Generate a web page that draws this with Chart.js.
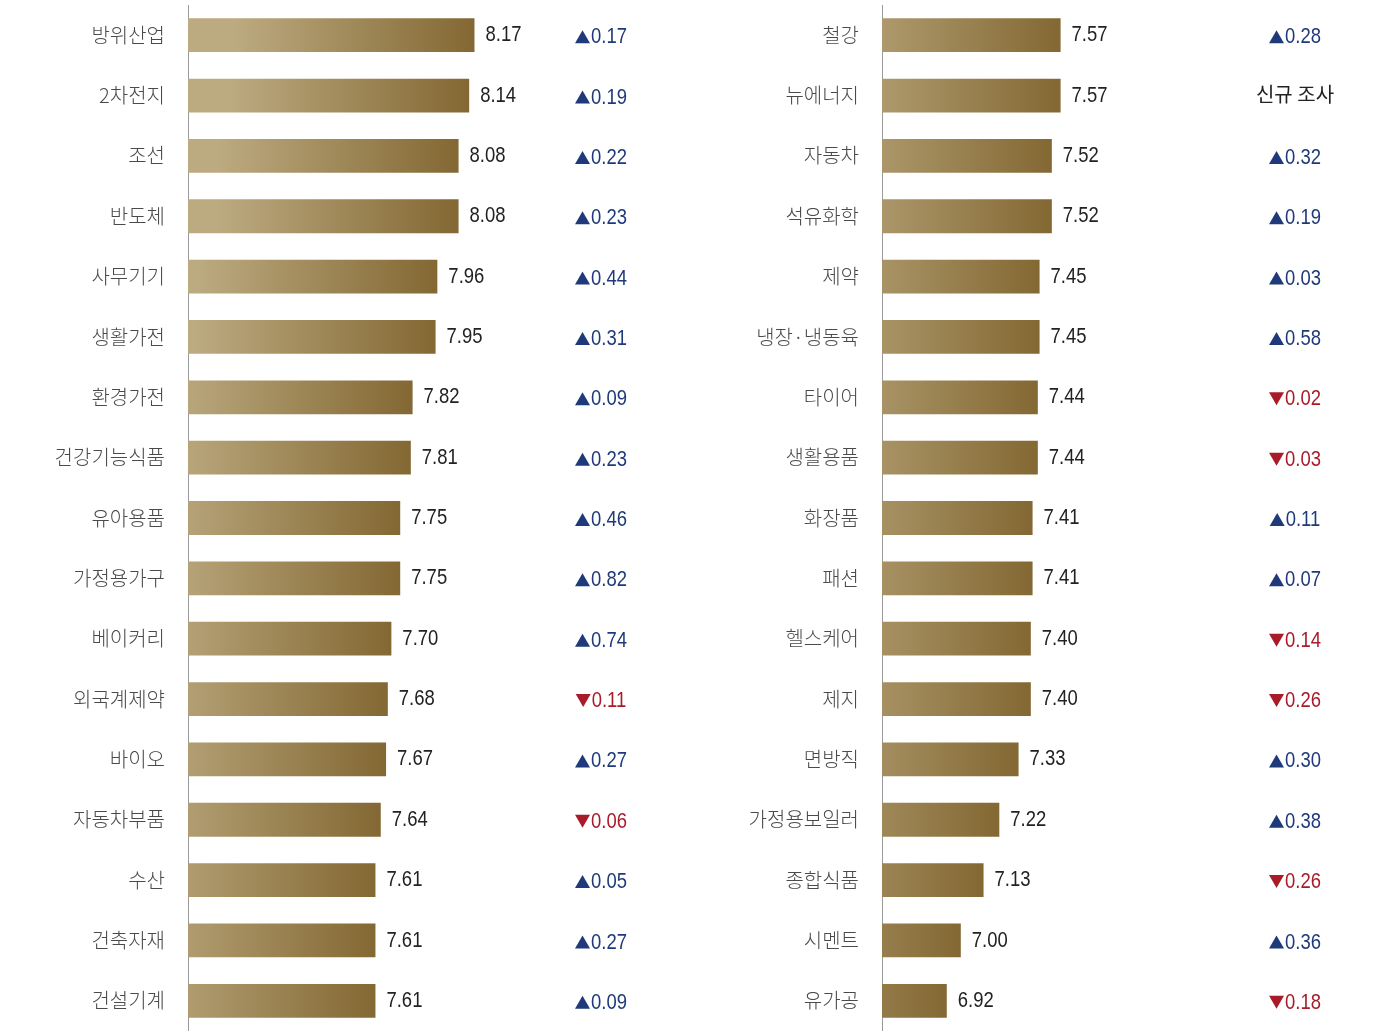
<!DOCTYPE html>
<html>
<head>
<meta charset="utf-8">
<script src="https://cdn.jsdelivr.net/npm/chart.js@4"></script>
<style>
  body { margin: 0; background: #fff; }
  #wrap { position: relative; width: 1381px; height: 1031px; }
  canvas { position: absolute; top: 0; }
</style>
</head>
<body>
<div id="wrap">
  <canvas id="leftChart" width="692" height="1031" style="left:0"></canvas>
  <canvas id="rightChart" width="689" height="1031" style="left:692px"></canvas>
</div>
<script>
// 왼쪽 업종
const leftLabels = ['방위산업', '2차전지', '조선', '반도체', '사무기기', '생활가전', '환경가전', '건강기능식품',
  '유아용품', '가정용가구', '베이커리', '외국계제약', '바이오', '자동차부품', '수산', '건축자재', '건설기계'];
const leftValues = [8.17, 8.14, 8.08, 8.08, 7.96, 7.95, 7.82, 7.81, 7.75, 7.75, 7.70, 7.68, 7.67, 7.64, 7.61, 7.61, 7.61];
const leftChange = [0.17, 0.19, 0.22, 0.23, 0.44, 0.31, 0.09, 0.23, 0.46, 0.82, 0.74, -0.11, 0.27, -0.06, 0.05, 0.27, 0.09];

// 오른쪽 업종
const rightLabels = ['철강', '뉴에너지', '자동차', '석유화학', '제약', '냉장·냉동육', '타이어', '생활용품',
  '화장품', '패션', '헬스케어', '제지', '면방직', '가정용보일러', '종합식품', '시멘트', '유가공'];
const rightValues = [7.57, 7.57, 7.52, 7.52, 7.45, 7.45, 7.44, 7.44, 7.41, 7.41, 7.40, 7.40, 7.33, 7.22, 7.13, 7.00, 6.92];
const rightChange = [0.28, null, 0.32, 0.19, 0.03, 0.58, -0.02, -0.03, 0.11, 0.07, -0.14, -0.26, 0.30, 0.38, -0.26, 0.36, -0.18];

const NUM_FONT = '"Liberation Sans Narrow", "Liberation Sans", sans-serif';
const KR_FONT = '"Noto Sans CJK KR", sans-serif';
const UP = '#1f3a7a';
const DOWN = '#a81c2a';
const SQUEEZE = 0.84; // 숫자 좁게

// 막대 그라데이션 (막대 끝 기준)
function barGradient(context) {
  const chart = context.chart;
  const xs = chart.scales.x;
  if (!xs || !chart.chartArea) return '#957a45';
  const end = xs.getPixelForValue(context.raw);
  if (!isFinite(end)) return '#957a45';
  const start = end - 240;
  const g = chart.ctx.createLinearGradient(start, 0, end, 0);
  g.addColorStop(0, '#bcaa80');
  g.addColorStop(1, '#836833');
  return g;
}

function narrowText(ctx, txt, x, y) {
  ctx.save();
  ctx.translate(x, y);
  ctx.scale(SQUEEZE, 1);
  ctx.fillText(txt, 0, 0);
  ctx.restore();
}

// 값 + 증감 라벨
const labelPlugin = {
  id: 'labels',
  afterDatasetsDraw(chart, args, opts) {
    const ctx = chart.ctx;
    const meta = chart.getDatasetMeta(0);
    const values = chart.data.datasets[0].data;
    const changes = opts.changes;
    const cx = chart.chartArea.left + 413;
    ctx.save();
    ctx.textBaseline = 'middle';
    meta.data.forEach((bar, i) => {
      ctx.fillStyle = '#222';
      ctx.font = '22px ' + NUM_FONT;
      ctx.textAlign = 'left';
      narrowText(ctx, values[i].toFixed(2), bar.x + 11, bar.y);

      const c = changes[i];
      const y = bar.y + 2;
      if (c === null) {
        ctx.font = '20px ' + KR_FONT;
        ctx.fillStyle = '#222';
        ctx.textAlign = 'center';
        ctx.fillText('신규 조사', cx, bar.y - 1);
        return;
      }
      const txt = Math.abs(c).toFixed(2);
      ctx.font = '22px ' + NUM_FONT;
      const tw = ctx.measureText(txt).width * SQUEEZE;
      const triW = 15, gap = 1;
      const total = triW + gap + tw;
      const x0 = cx - total / 2;
      ctx.fillStyle = c >= 0 ? UP : DOWN;
      ctx.beginPath();
      if (c >= 0) {
        ctx.moveTo(x0, y + 6);
        ctx.lineTo(x0 + triW, y + 6);
        ctx.lineTo(x0 + triW / 2, y - 7);
      } else {
        ctx.moveTo(x0, y - 7);
        ctx.lineTo(x0 + triW, y - 7);
        ctx.lineTo(x0 + triW / 2, y + 6);
      }
      ctx.closePath();
      ctx.fill();
      ctx.textAlign = 'left';
      narrowText(ctx, txt, x0 + triW + gap, y);
    });
    ctx.restore();
  }
};

function makeChart(id, labels, values, changes, axisWidth) {
  return new Chart(document.getElementById(id), {
    type: 'bar',
    data: {
      labels: labels,
      datasets: [{
        data: values,
        backgroundColor: barGradient,
        borderWidth: 0,
        barPercentage: 0.56,
        categoryPercentage: 1
      }]
    },
    options: {
      indexAxis: 'y',
      responsive: false,
      animation: false,
      layout: { padding: { top: 5, bottom: 0, left: 0, right: 0 } },
      plugins: {
        legend: { display: false },
        tooltip: { enabled: false },
        labels: { changes: changes }
      },
      scales: {
        x: {
          display: false,
          min: 6.55,
          max: 9.4
        },
        y: {
          grid: { display: false, drawTicks: false },
          border: { display: true, color: '#9a9a9a', width: 1 },
          ticks: {
            autoSkip: false,
            color: '#4a4a4a',
            padding: 23,
            font: { family: KR_FONT, size: 20, weight: 300 }
          },
          afterFit(scale) {
            scale.width = axisWidth;
            scale.paddingTop = 0;
            scale.paddingBottom = 0;
          }
        }
      }
    },
    plugins: [labelPlugin]
  });
}

makeChart('leftChart', leftLabels, leftValues, leftChange, 188);
makeChart('rightChart', rightLabels, rightValues, rightChange, 190);
</script>
</body>
</html>
